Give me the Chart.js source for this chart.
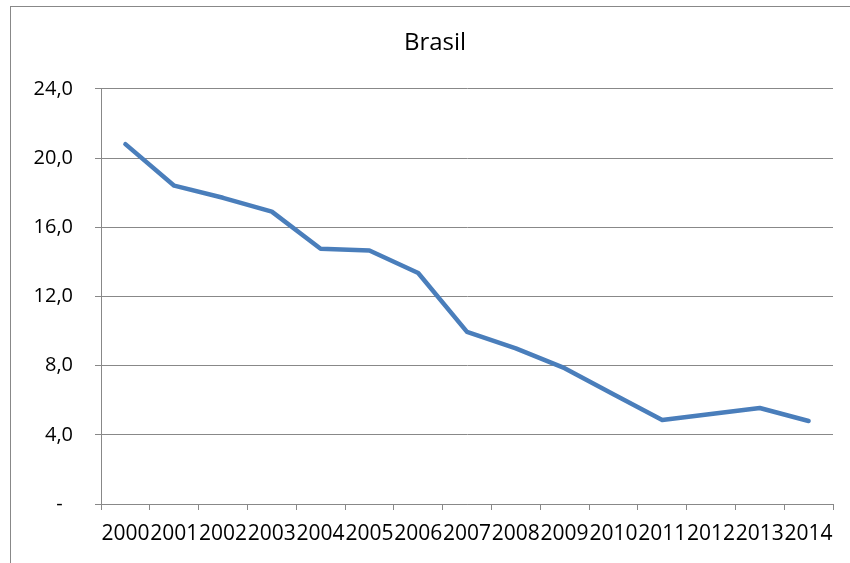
<!DOCTYPE html>
<html>
<head>
<meta charset="utf-8">
<title>Brasil</title>
<script src="https://cdn.jsdelivr.net/npm/chart.js@4/dist/chart.umd.min.js"></script>
<style>
    html, body { margin: 0; padding: 0; background: #ffffff; }
    #wrap { position: relative; width: 850px; height: 563px; }
</style>
</head>
<body>
<div id="wrap"><canvas id="brasilChart" width="850" height="563"></canvas></div>
<script>
// Chart data
const years = ['2000', '2001', '2002', '2003', '2004', '2005', '2006', '2007',
    '2008', '2009', '2010', '2011', '2012', '2013', '2014'];
const brasilValues = [20.8, 18.4, 17.7, 16.9, 14.75, 14.65, 13.35, 9.95,
    9.0, 7.85, 6.35, 4.85, 5.2, 5.55, 4.8];
const yTicks = [0, 4, 8, 12, 16, 20, 24];

document.addEventListener("DOMContentLoaded", function () {
    const axisGrey = '#888888';

    // Outer frame of the chart object (only left and top edges show)
    const framePlugin = {
        id: 'frame',
        afterLayout(chart) {
            // Excel centres the title inside the frame, not the canvas
            if (chart.titleBlock) {
                chart.titleBlock.left = 20;
                chart.titleBlock.right = chart.width;
            }
        },
        beforeDraw(chart) {
            const ctx = chart.ctx;
            ctx.save();
            ctx.strokeStyle = axisGrey;
            ctx.lineWidth = 1;
            ctx.strokeRect(10.5, 6.5, chart.width + 20, chart.height + 20);
            ctx.restore();
        }
    };

    const ctx = document.getElementById('brasilChart').getContext('2d');
    new Chart(ctx, {
        type: 'line',
        data: {
            labels: years,
            datasets: [{
                label: 'Brasil',
                data: brasilValues,
                borderColor: '#4a7ebb',
                borderWidth: 4.5,
                borderJoinStyle: 'round',
                borderCapStyle: 'round',
                pointRadius: 0,
                tension: 0,
                fill: false
            }]
        },
        options: {
            responsive: false,
            animation: false,
            layout: { padding: { left: 0, right: 17, top: 0, bottom: 0 } },
            scales: {
                x: {
                    offset: true,
                    grid: {
                        offset: true,
                        drawOnChartArea: false,
                        tickLength: 6,
                        color: axisGrey
                    },
                    border: { color: axisGrey },
                    ticks: {
                        autoSkip: false,
                        maxRotation: 0,
                        minRotation: 0,
                        padding: 11,
                        color: '#000000',
                        font: { family: 'Open Sans', size: 21 }
                    },
                    afterFit(scale) { scale.height = 59; }
                },
                y: {
                    min: 0,
                    max: 24,
                    afterBuildTicks(scale) {
                        scale.ticks = yTicks.map(v => ({ value: v }));
                    },
                    grid: { tickLength: 6, color: axisGrey },
                    border: { color: axisGrey },
                    ticks: {
                        padding: 22,
                        color: '#000000',
                        font: { family: 'Open Sans', size: 20 },
                        callback: v => v === 0 ? '-  ' : v.toFixed(1).replace('.', ',')
                    },
                    afterFit(scale) { scale.width = 101; }
                }
            },
            plugins: {
                legend: { display: false },
                tooltip: { enabled: false },
                title: {
                    display: true,
                    text: 'Brasil',
                    color: '#000000',
                    font: { family: 'Open Sans', size: 24, weight: 'normal' },
                    padding: { top: 29, bottom: 31 }
                }
            }
        },
        plugins: [framePlugin]
    });
});
</script>
</body>
</html>
